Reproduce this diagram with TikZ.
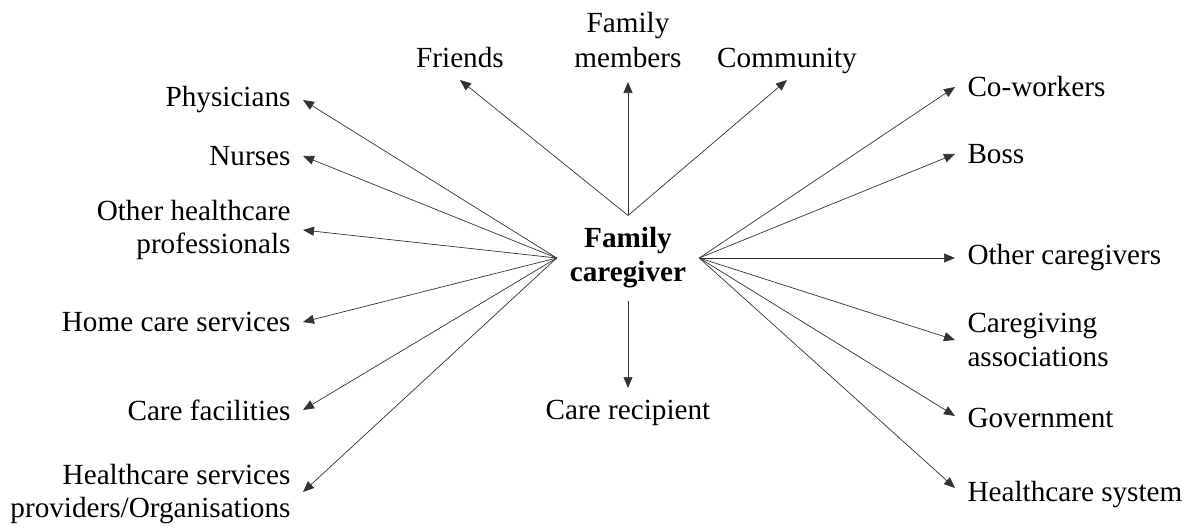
\documentclass[tikz,border=0pt]{standalone}
\usepackage{fontspec}
\setmainfont{Liberation Serif}
\usetikzlibrary{arrows.meta}
\begin{document}
\begin{tikzpicture}[x=1pt,y=-1pt,
  lbl/.style={inner sep=0pt,outer sep=12.5pt,font=\fontsize{29.2}{33.5}\selectfont},
  lblL/.style={lbl,align=right},
  lblR/.style={lbl,align=left},
  hub/.style={inner xsep=13pt,inner ysep=12pt,align=center,
              font=\fontsize{29.2}{34}\selectfont\bfseries},
  link/.style={draw=black!80,line width=0.7pt,
               -{Triangle[length=11pt,width=9pt]}}]
\useasboundingbox (0,0) rectangle (1189,528);

% central node
\node[hub] (fc) at (628,258) {Family\\caregiver};

% top row
\node[lbl,anchor=south] (fri) at (460,80) {Friends};
\node[lbl,anchor=south,align=center] (fam) at (628,80) {Family\\[1.5pt]members};
\node[lbl,anchor=south] (com) at (787,86) {Community};

% left column
\node[lblL,anchor=east] (phy) at (303,100) {Physicians};
\node[lblL,anchor=east] (nur) at (303,156) {Nurses};
\node[lblL,anchor=east] (ohp) at (303,230) {Other healthcare\\professionals};
\node[lblL,anchor=east] (hcs) at (303,322) {Home care services};
\node[lblL,anchor=east] (cfa) at (303,410) {Care facilities};
\node[lblL,anchor=east] (hsp) at (303,494) {Healthcare services\\providers/Organisations};

% right column
\node[lblR,anchor=west] (cow) at (955,87) {Co-workers};
\node[lblR,anchor=west] (bos) at (955,154) {Boss};
\node[lblR,anchor=west] (ocg) at (955,258) {Other caregivers};
\node[lblR,anchor=west] (cga) at (955,340) {Caregiving\\associations};
\node[lblR,anchor=west] (gov) at (955,418) {Government};
\node[lblR,anchor=west] (hsy) at (955,495) {Healthcare system};

% bottom
\node[lbl,anchor=north] (rec) at (628,388) {Care recipient};

% connectors
\draw[link] (fc.north) -- (fri.south);
\draw[link] (fc.north) -- ([yshift=-2pt]fam.south);
\draw[link] (fc.north) -- ([yshift=6pt]com.south);
\draw[link] (fc.south) -- (rec.north);

\foreach \t in {phy,nur,ohp,hcs,cfa}
  \draw[link] (fc.west) -- (\t.east);
\draw[link] (fc.west) -- ([yshift=2pt]hsp.east);

\foreach \t in {cow,bos,ocg,cga}
  \draw[link] (fc.east) -- (\t.west);
\draw[link] (fc.east) -- ([yshift=2pt]gov.west);
\draw[link] (fc.east) -- ([yshift=7pt]hsy.west);
\end{tikzpicture}
\end{document}
